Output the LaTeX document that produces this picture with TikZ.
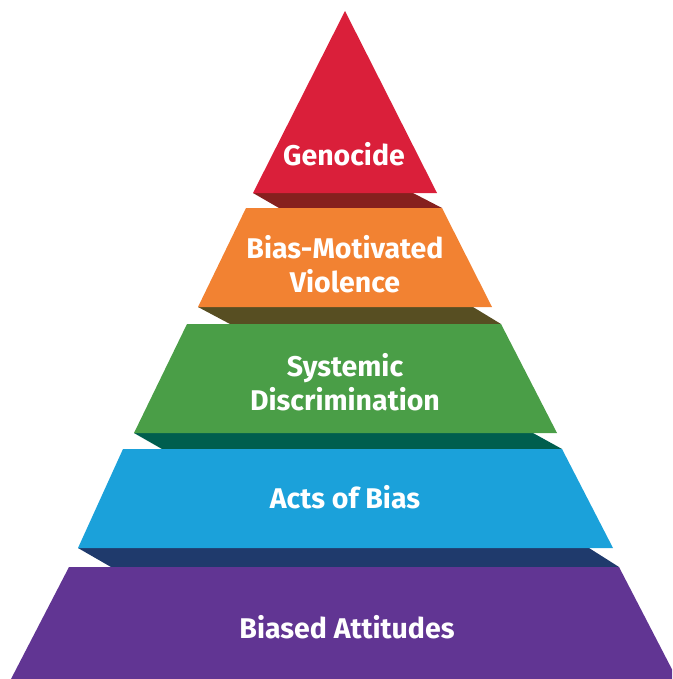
\documentclass[tikz,border=0pt]{standalone}
\usepackage{fontspec}
\setmainfont{Fira Sans}
\definecolor{cRed}{HTML}{DA1F3A}
\definecolor{cRedD}{HTML}{86201E}
\definecolor{cOrange}{HTML}{F28232}
\definecolor{cOrangeD}{HTML}{574E22}
\definecolor{cGreen}{HTML}{4A9E47}
\definecolor{cGreenD}{HTML}{005E4E}
\definecolor{cBlue}{HTML}{1BA1DA}
\definecolor{cBlueD}{HTML}{1F3A6C}
\definecolor{cPurple}{HTML}{613593}
\begin{document}
\begin{tikzpicture}[x=1pt,y=-1pt,
  lbl/.style={text=white,font=\fontsize{28.5}{34}\selectfont\bfseries,align=center,inner sep=0pt}]
\useasboundingbox (0,0) rectangle (672,679);
\clip (0,0) rectangle (672,679);
% shadows
\fill[cRedD] (253,193) -- (413,193) -- (442,208) -- (279,208) -- cycle;
\fill[cOrangeD] (198,307) -- (473,307) -- (501,324) -- (230,324) -- cycle;
\fill[cGreenD] (134,433) -- (533,433) -- (562,449) -- (162,449) -- cycle;
\fill[cBlueD] (78,548) -- (589,548) -- (619,567) -- (111,567) -- cycle;
% tiers
\fill[cRed] (345,11) -- (437,193) -- (253,193) -- cycle;
\fill[cOrange] (246,208) -- (442,208) -- (492,307) -- (198,307) -- cycle;
\fill[cGreen] (187,324) -- (501,324) -- (557,433) -- (134,433) -- cycle;
\fill[cBlue] (123,449) -- (562,449) -- (613,548) -- (78,548) -- cycle;
\fill[cPurple] (69,567) -- (619,567) -- (677,679) -- (11,679) -- cycle;
% labels
\node[lbl] (genocide) at (344,154) {Genocide};
\node[lbl] (violence) at (345,264) {Bias-Motivated\\Violence};
\node[lbl] (systemic) at (345,382) {Systemic\\Discrimination};
\node[lbl] (acts) at (345,497) {Acts of Bias};
\node[lbl] (attitudes) at (347,627) {Biased Attitudes};
\end{tikzpicture}
\end{document}
